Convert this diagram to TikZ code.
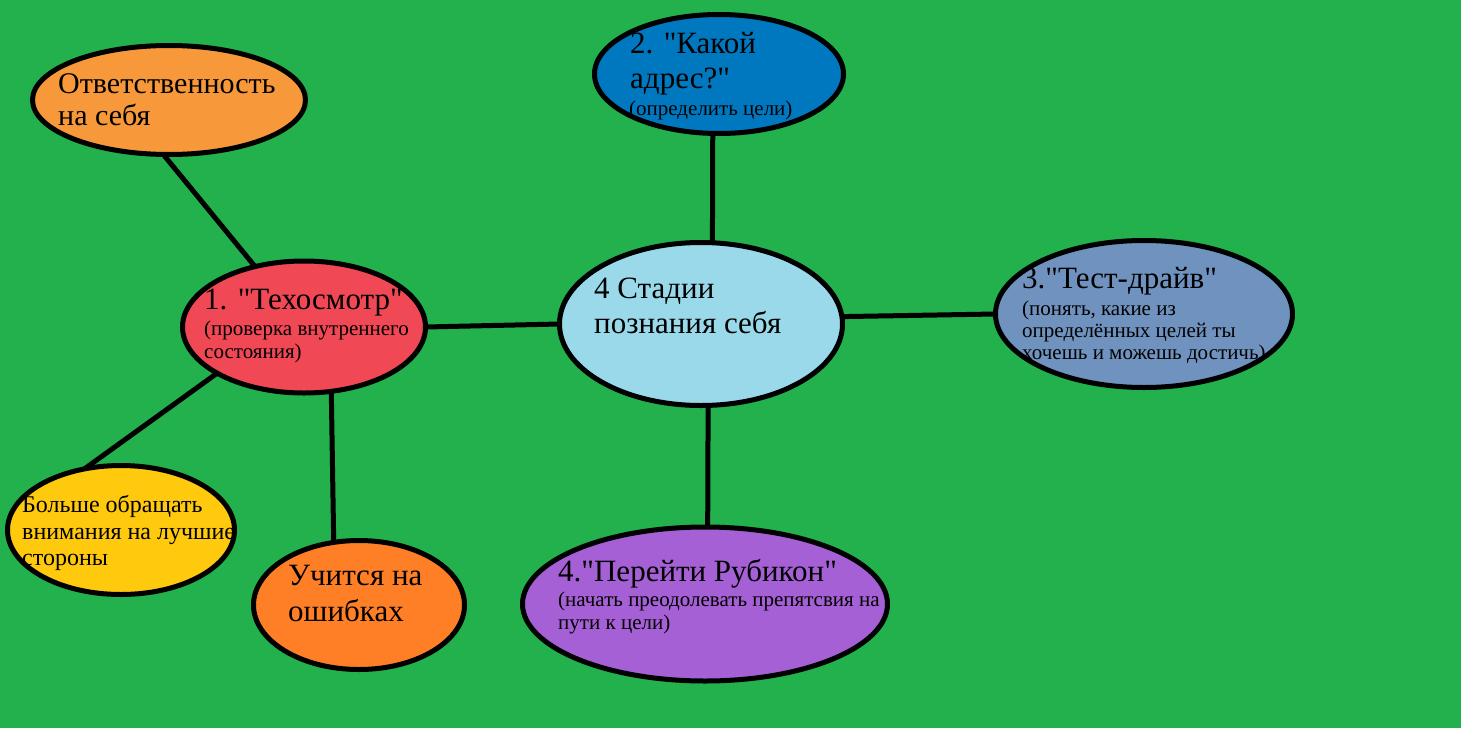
\documentclass[tikz,border=0pt]{standalone}
\usepackage{fontspec}
\setmainfont{Liberation Serif}[Ligatures=TeXOff]
\newfontfamily\tnr{Liberation Serif}[Ligatures=TeXOff]
\usetikzlibrary{shapes.geometric}
\definecolor{bgc}{HTML}{22B14C}
\definecolor{orA}{HTML}{F7993A}
\definecolor{blA}{HTML}{0078BF}
\definecolor{rdA}{HTML}{F04855}
\definecolor{lbA}{HTML}{99D9EA}
\definecolor{stA}{HTML}{7092BE}
\definecolor{ylA}{HTML}{FFC90E}
\definecolor{orB}{HTML}{FF7F27}
\definecolor{puA}{HTML}{A460D4}
\begin{document}
\begin{tikzpicture}[x=1pt,y=-1pt,
  bub/.style={ellipse, draw=black, line width=5pt, inner sep=0pt, outer sep=0pt},
  link/.style={line width=5pt},
  bigt/.style={anchor=base west, inner sep=0pt, font=\tnr\fontsize{31}{35}\selectfont},
  midt/.style={anchor=base west, inner sep=0pt, font=\tnr\fontsize{24}{27}\selectfont},
  smallt/.style={anchor=base west, inner sep=0pt, font=\tnr\fontsize{21}{24}\selectfont}]
\fill[bgc] (0,0) rectangle (1461,728);
\useasboundingbox (0,0) rectangle (1461,728);

% bubbles
\node[bub, fill=orA, minimum width=273pt, minimum height=109pt] (resp) at (169,100) {};
\node[bub, fill=blA, minimum width=249pt, minimum height=119pt] (addr) at (719,74) {};
\node[bub, fill=rdA, minimum width=243pt, minimum height=132pt] (tech) at (304,327) {};
\node[bub, fill=lbA, minimum width=283pt, minimum height=163pt] (core) at (701,324) {};
\node[bub, fill=stA, minimum width=297pt, minimum height=147pt] (test) at (1144,314) {};
\node[bub, fill=ylA, minimum width=227pt, minimum height=129pt] (best) at (121,530) {};
\node[bub, fill=orB, minimum width=211pt, minimum height=129pt] (err) at (359,605) {};
\node[bub, fill=puA, minimum width=365pt, minimum height=154pt] (rub) at (705,604) {};

% connectors
\draw[link] (resp.-96) -- (tech.129.7);
\draw[link] (addr.-96.4) -- (core.82.5);
\draw[link] (tech.east) -- (core.west);
\draw[link] (core.3.6) -- (test.west);
\draw[link] (core.-85.2) -- (rub.88);
\draw[link] (tech.-152.5) -- (best.121.4);
\draw[link] (tech.-67.9) -- (err.112);

% texts
\node[bigt, font=\tnr\fontsize{30}{34}\selectfont] (resp1) at (58,93) {Ответственность};
\node[bigt, font=\tnr\fontsize{30}{34}\selectfont] (resp2) at (58,125) {на себя};

\node[bigt] (addr1) at (630,53) {2. "Какой};
\node[bigt] (addr2) at (630,88) {адрес?"};
\node[smallt] (addr3) at (629,115) {(определить цели)};

\node[bigt] (tech1) at (204,309) {1. "Техосмотр"};
\node[smallt] (tech2) at (204,335) {(проверка внутреннего};
\node[smallt] (tech3) at (204,358) {состояния)};

\node[bigt] (core1) at (594,298) {4 Стадии};
\node[bigt] (core2) at (594,333) {познания себя};

\node[bigt] (test1) at (1022,288) {3."Тест-драйв"};
\node[smallt] (test2) at (1022,315) {(понять, какие из};
\node[smallt] (test3) at (1022,337) {определённых целей ты};
\node[smallt] (test4) at (1022,359) {хочешь и можешь достичь)};

\node[midt] (best1) at (22,512) {Больше обращать};
\node[midt] (best2) at (22,539) {внимания на лучшие};
\node[midt] (best3) at (22,565) {стороны};

\node[bigt] (err1) at (288,585) {Учится на};
\node[bigt] (err2) at (288,621) {ошибках};

\node[bigt] (rub1) at (558,581) {4."Перейти Рубикон"};
\node[smallt] (rub2) at (558,606) {(начать преодолевать препятсвия на};
\node[smallt] (rub3) at (558,629) {пути к цели)};
\end{tikzpicture}
\end{document}
